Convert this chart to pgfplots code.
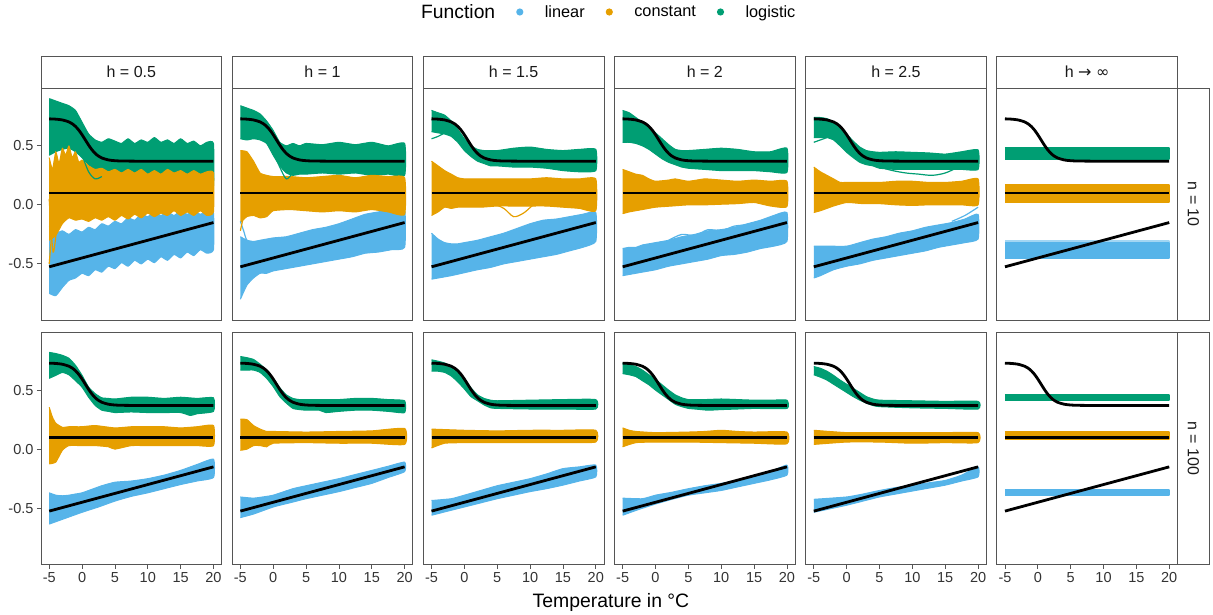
\documentclass[border=0pt]{standalone}
\usepackage{pgfplots}
\pgfplotsset{compat=1.18}
\usepackage{pgfplotstable}
\usepackage{fontspec}
\setmainfont{Liberation Sans}
\newfontfamily\dejavu{DejaVu Sans}
\definecolor{cB}{HTML}{56B4E9}
\definecolor{cO}{HTML}{E69F00}
\definecolor{cG}{HTML}{009E73}
\definecolor{bord}{HTML}{555555}
\definecolor{tickc}{HTML}{333333}
\pgfplotsset{
 panel/.style={anchor=north west, scale only axis, width=180.7pt, height=232.5pt,
   xmin=-6.25, xmax=21.25, ymin=-0.98, ymax=0.99,
   axis line style={bord, line width=0.8pt}, xtick=\empty, ytick=\empty,
   clip mode=individual, tick style={bord, line width=0.8pt}, major tick length=4pt,
   tick align=outside, ticklabel style={font=\fontsize{14.5}{16}\selectfont, text=tickc}},
 leftcol/.style={ytick={-0.5,0,0.5}, yticklabels={-0.5,0.0,0.5}, ytick pos=left},
 botrow/.style={xtick={-5,0,5,10,15,20}, xticklabels={-5,0,5,10,15,20}, xtick pos=bottom},
 B/.style={fill=cB, draw=cB, line width=1pt, line join=round, smooth, tension=0.3},
 O/.style={fill=cO, draw=cO, line width=1pt, line join=round, smooth, tension=0.3},
 G/.style={fill=cG, draw=cG, line width=1pt, line join=round, smooth, tension=0.3},
 Bf/.style={fill=cB, draw=cB, line width=2pt, line join=round},
 Of/.style={fill=cO, draw=cO, line width=2pt, line join=round},
 Gf/.style={fill=cG, draw=cG, line width=2pt, line join=round},
 lB/.style={cB, line width=1.2pt, smooth},
 lO/.style={cO, line width=1.2pt, smooth},
 lG/.style={cG, line width=1.2pt, smooth},
 truth/.style={black, line width=2.8pt, smooth},
}
\pgfplotstableread{
x lin con log
-5 -0.525 0.1 0.7286
-4 -0.51 0.1 0.7260
-3 -0.495 0.1 0.7194
-2 -0.48 0.1 0.7027
-1.5 -0.4725 0.1 0.6871
-1 -0.465 0.1 0.6643
-0.5 -0.4575 0.1 0.6332
0 -0.45 0.1 0.5940
0.5 -0.4425 0.1 0.5500
1 -0.435 0.1 0.5059
1.5 -0.4275 0.1 0.4668
2 -0.42 0.1 0.4357
2.5 -0.4125 0.1 0.4129
3 -0.405 0.1 0.3973
4 -0.39 0.1 0.3806
5 -0.375 0.1 0.3740
6 -0.36 0.1 0.3715
8 -0.33 0.1 0.3702
10 -0.30 0.1 0.3700
15 -0.225 0.1 0.3700
20 -0.15 0.1 0.3700
}\truthtab
\newcommand{\truths}{%
\addplot[truth] table[x=x,y=lin]{\truthtab};
\addplot[truth] table[x=x,y=con]{\truthtab};
\addplot[truth] table[x=x,y=log]{\truthtab};}
\begin{document}
\begin{tikzpicture}
\path[use as bounding box] (-41pt,88pt) rectangle (1172pt,-527pt);
% ---------------- Row 1 (n = 10)
\begin{axis}[panel, leftcol, name=p11, at={(0pt,0pt)}]
\addplot[G] coordinates {(-5,0.90)(-4,0.88)(-3,0.86)(-2,0.84)(-1,0.80)(0,0.70)(1,0.60)(2,0.55)(3,0.53)(4,0.56)(5,0.54)(6,0.52)(7,0.56)(8,0.52)(9,0.55)(10,0.53)(11,0.57)(12,0.53)(13,0.55)(14,0.52)(15,0.56)(16,0.52)(17,0.54)(18,0.50)(19,0.53)(20,0.52)
 (20,0.16)(19,0.20)(18,0.17)(17,0.22)(16,0.19)(15,0.22)(14,0.18)(13,0.21)(12,0.18)(11,0.22)(10,0.19)(9,0.22)(8,0.20)(7,0.23)(6,0.20)(5,0.23)(4,0.22)(3,0.26)(2,0.30)(1,0.34)(0,0.40)(-1,0.45)(-2,0.48)(-3,0.47)(-4,0.45)(-5,0.42)};
\addplot[B] coordinates {(-5,-0.18)(-4,-0.24)(-3,-0.22)(-2,-0.25)(-1,-0.21)(0,-0.23)(1,-0.19)(2,-0.21)(3,-0.16)(4,-0.18)(5,-0.14)(6,-0.16)(7,-0.11)(8,-0.13)(9,-0.08)(10,-0.10)(11,-0.06)(12,-0.09)(13,-0.06)(14,-0.09)(15,-0.05)(16,-0.08)(17,-0.05)(18,-0.08)(19,-0.05)(20,-0.07)
 (20,-0.38)(19,-0.41)(18,-0.38)(17,-0.43)(16,-0.40)(15,-0.45)(14,-0.42)(13,-0.47)(12,-0.44)(11,-0.49)(10,-0.46)(9,-0.50)(8,-0.47)(7,-0.52)(6,-0.49)(5,-0.54)(4,-0.52)(3,-0.57)(2,-0.55)(1,-0.60)(0,-0.58)(-1,-0.62)(-2,-0.64)(-3,-0.70)(-4,-0.77)(-5,-0.75)};
\addplot[O] coordinates {(-5,0.40)(-4.5,0.30)(-4,0.45)(-3.5,0.35)(-3,0.48)(-2.5,0.42)(-2,0.50)(-1.5,0.40)(-1,0.45)(-0.5,0.36)(0,0.38)(1,0.33)(2,0.30)(3,0.31)(4,0.28)(5,0.30)(6,0.27)(7,0.30)(8,0.27)(9,0.30)(10,0.26)(11,0.29)(12,0.26)(13,0.30)(14,0.27)(15,0.29)(16,0.26)(17,0.29)(18,0.26)(19,0.28)(20,0.27)
 (20,-0.06)(19,-0.09)(18,-0.05)(17,-0.09)(16,-0.06)(15,-0.09)(14,-0.05)(13,-0.09)(12,-0.07)(11,-0.10)(10,-0.07)(9,-0.11)(8,-0.08)(7,-0.12)(6,-0.09)(5,-0.13)(4,-0.10)(3,-0.13)(2,-0.11)(1,-0.14)(0,-0.12)(-1,-0.13)(-2,-0.11)(-3,-0.16)(-4,-0.26)(-5,-0.30)};
\addplot[lO] coordinates {(-5,-0.50)(-4.6,-0.25)(-4,-0.05)};
\addplot[lO] coordinates {(-5,0.05)(-4.4,-0.40)(-3.8,-0.15)};
\addplot[lG] coordinates {(-1,0.55)(0,0.42)(1,0.28)(2,0.22)(3,0.24)};
\truths
\end{axis}
\begin{axis}[panel, name=p12, at={(191.15pt,0pt)}]
\addplot[G] coordinates {(-5,0.84)(-4,0.82)(-3,0.80)(-2,0.77)(-1,0.71)(0,0.63)(1,0.53)(2,0.50)(3,0.52)(4,0.50)(5,0.52)(7.5,0.51)(10,0.53)(12.5,0.51)(15,0.53)(17.5,0.50)(20,0.52)
 (20,0.25)(17.5,0.26)(15,0.25)(12.5,0.27)(10,0.26)(7.5,0.27)(5,0.26)(4,0.26)(3,0.25)(2,0.27)(1,0.33)(0,0.42)(-1,0.52)(-2,0.55)(-3,0.56)(-4,0.55)(-5,0.56)};
\addplot[B] coordinates {(-5,-0.27)(-4,-0.30)(-3,-0.31)(-2,-0.30)(-1,-0.29)(0,-0.28)(2,-0.27)(4,-0.24)(6,-0.21)(8,-0.19)(10,-0.16)(12,-0.12)(14,-0.08)(16,-0.06)(18,-0.04)(20,-0.04)
 (20,-0.36)(18,-0.38)(16,-0.40)(14,-0.41)(12,-0.44)(10,-0.46)(8,-0.48)(6,-0.50)(4,-0.52)(2,-0.54)(0,-0.56)(-1,-0.58)(-2,-0.58)(-3,-0.62)(-4,-0.68)(-5,-0.80)};
\addplot[O] coordinates {(-5,0.46)(-4,0.45)(-3,0.37)(-2,0.27)(-1,0.25)(0,0.24)(2.5,0.24)(5,0.23)(7.5,0.24)(10,0.25)(12.5,0.23)(15,0.25)(17.5,0.24)(20,0.23)
 (20,-0.08)(17.5,-0.06)(15,-0.04)(12.5,-0.06)(10,-0.05)(7.5,-0.06)(5,-0.05)(2.5,-0.04)(0,-0.05)(-1,-0.10)(-2,-0.11)(-3,-0.09)(-4,-0.10)(-5,-0.15)};
\addplot[lB] coordinates {(-5,-0.14)(-4.5,-0.22)(-4,-0.30)(-3,-0.32)};
\addplot[lO] coordinates {(-5,-0.22)(-4.5,-0.10)(-4,-0.05)};
\addplot[lG] coordinates {(0,0.45)(1,0.32)(2,0.22)(3,0.27)(4,0.30)};
\truths
\end{axis}
\begin{axis}[panel, name=p13, at={(382.3pt,0pt)}]
\addplot[G] coordinates {(-5,0.80)(-4,0.78)(-3,0.76)(-2,0.71)(-1,0.64)(0,0.56)(1,0.50)(2,0.47)(3,0.46)(5,0.46)(7.5,0.48)(10,0.49)(12.5,0.47)(15,0.46)(17.5,0.47)(20,0.47)
 (20,0.29)(17.5,0.28)(15,0.29)(12.5,0.31)(10,0.32)(7.5,0.32)(5,0.33)(4,0.33)(3,0.35)(2,0.37)(1,0.41)(0,0.46)(-1,0.53)(-2,0.58)(-3,0.60)(-4,0.61)(-5,0.62)};
\addplot[B] coordinates {(-5,-0.24)(-4,-0.29)(-3,-0.32)(-2,-0.33)(-1,-0.33)(0,-0.32)(2,-0.30)(4,-0.27)(6,-0.24)(8,-0.20)(10,-0.16)(12,-0.13)(14,-0.12)(16,-0.10)(18,-0.08)(20,-0.065)
 (20,-0.31)(18,-0.36)(16,-0.39)(14,-0.42)(12,-0.44)(10,-0.46)(8,-0.48)(6,-0.50)(4,-0.53)(2,-0.55)(0,-0.575)(-2,-0.60)(-4,-0.62)(-5,-0.63)};
\addplot[O] coordinates {(-5,0.37)(-4,0.33)(-3,0.29)(-2,0.26)(-1,0.23)(0,0.22)(2.5,0.22)(5,0.22)(7.5,0.22)(10,0.22)(12.5,0.23)(15,0.22)(17.5,0.22)(20,0.22)
 (20,-0.05)(17.5,-0.03)(15,-0.02)(12.5,-0.01)(10,-0.01)(7.5,-0.01)(5,-0.01)(2.5,-0.02)(0,-0.02)(-1,-0.02)(-2,-0.03)(-3,-0.02)(-4,-0.06)(-5,-0.09)};
\addplot[lG] coordinates {(-5,0.56)(-4,0.58)(-3,0.61)};
\addplot[lO] coordinates {(4,0.02)(6,-0.03)(7.5,-0.10)(9,-0.07)(10.5,0.0)(12,0.05)};
\truths
\end{axis}
\begin{axis}[panel, name=p14, at={(573.45pt,0pt)}]
\addplot[G] coordinates {(-5,0.80)(-4,0.78)(-3,0.74)(-2,0.70)(-1,0.66)(0,0.61)(1,0.56)(2,0.51)(3,0.47)(4,0.46)(5,0.46)(7.5,0.47)(10,0.48)(12.5,0.47)(15,0.45)(17.5,0.45)(20,0.48)
 (20,0.275)(17.5,0.28)(15,0.29)(12.5,0.29)(10,0.29)(7.5,0.30)(5,0.31)(4,0.32)(3,0.34)(2,0.36)(1,0.39)(0,0.43)(-1,0.47)(-2,0.50)(-3,0.52)(-4,0.53)(-5,0.53)};
\addplot[B] coordinates {(-5,-0.37)(-4,-0.36)(-3,-0.36)(-2,-0.34)(-1,-0.33)(0,-0.32)(2,-0.30)(4,-0.27)(6,-0.25)(8,-0.22)(10,-0.21)(12,-0.19)(14,-0.16)(16,-0.13)(18,-0.09)(20,-0.065)
 (20,-0.31)(18,-0.35)(16,-0.37)(14,-0.40)(12,-0.42)(10,-0.43)(8,-0.46)(6,-0.48)(4,-0.50)(2,-0.52)(0,-0.55)(-2,-0.57)(-4,-0.59)(-5,-0.60)};
\addplot[O] coordinates {(-5,0.30)(-4,0.28)(-3,0.26)(-2,0.25)(-1,0.22)(0,0.20)(2,0.21)(3,0.22)(5,0.20)(7.5,0.22)(10,0.21)(12.5,0.20)(15,0.21)(17.5,0.20)(20,0.20)
 (20,-0.015)(17.5,-0.01)(15,0.02)(12.5,0.01)(10,0.005)(7.5,0.0)(5,0.0)(2.5,-0.01)(0,-0.02)(-2,-0.04)(-4,-0.06)(-5,-0.075)};
\addplot[lB] coordinates {(2,-0.30)(4,-0.25)(6,-0.26)(8,-0.21)(10,-0.22)(12,-0.18)(14,-0.17)};
\addplot[lB] coordinates {(14,-0.20)(16,-0.22)(18,-0.26)(20,-0.29)};
\truths
\end{axis}
\begin{axis}[panel, name=p15, at={(764.6pt,0pt)}]
\addplot[G] coordinates {(-5,0.74)(-4,0.74)(-3,0.73)(-2,0.70)(-1,0.66)(0,0.60)(1,0.54)(2,0.49)(3,0.46)(4,0.45)(5,0.445)(7.5,0.45)(10,0.445)(12.5,0.44)(15,0.43)(17.5,0.45)(20,0.465)
 (20,0.30)(17.5,0.30)(15,0.30)(12.5,0.30)(10,0.30)(7.5,0.30)(5,0.31)(4,0.33)(3,0.34)(2,0.36)(1,0.40)(0,0.445)(-1,0.50)(-2,0.55)(-3,0.57)(-4,0.57)(-5,0.57)};
\addplot[B] coordinates {(-5,-0.35)(-3,-0.35)(0,-0.35)(2,-0.32)(4,-0.29)(6,-0.27)(8,-0.24)(10,-0.22)(12,-0.19)(14,-0.17)(16,-0.15)(18,-0.12)(20,-0.08)
 (20,-0.29)(18,-0.32)(16,-0.34)(14,-0.36)(12,-0.39)(10,-0.41)(8,-0.43)(6,-0.45)(4,-0.47)(2,-0.50)(0,-0.52)(-2,-0.55)(-4,-0.60)(-5,-0.62)};
\addplot[O] coordinates {(-5,0.32)(-4,0.28)(-3,0.25)(-2,0.22)(-1,0.19)(0,0.19)(5,0.19)(7.5,0.20)(10,0.20)(12.5,0.19)(15,0.19)(17.5,0.20)(20,0.22)
 (20,0.0)(17.5,0.0)(15,0.0)(12.5,0.0)(10,-0.005)(7.5,0.0)(5,0.01)(2.5,0.01)(0,0.02)(-2,-0.01)(-3,-0.03)(-4,-0.05)(-5,-0.065)};
\addplot[lG] coordinates {(-5,0.53)(-4,0.55)(-3,0.57)};
\addplot[lG] coordinates {(5,0.32)(7,0.29)(9,0.27)(11,0.26)(13,0.25)(15,0.27)(17,0.32)(18,0.35)};
\addplot[lB] coordinates {(16,-0.14)(18,-0.09)(20,-0.02)};
\truths
\end{axis}
\begin{axis}[panel, name=p16, at={(955.75pt,0pt)}]
\addplot[Gf] coordinates {(-5,0.48)(20,0.48)(20,0.39)(-5,0.39)};
\addplot[Of] coordinates {(-5,0.165)(20,0.165)(20,0.025)(-5,0.025)};
\addplot[fill=cB!55!white, draw=cB!55!white, line width=2pt, line join=round] coordinates {(-5,-0.305)(20,-0.305)(20,-0.33)(-5,-0.33)};
\addplot[Bf] coordinates {(-5,-0.325)(20,-0.325)(20,-0.45)(-5,-0.45)};
\truths
\end{axis}
% ---------------- Row 2 (n = 100)
\begin{axis}[panel, leftcol, botrow, name=p21, at={(0pt,-244.3pt)}]
\addplot[G] coordinates {(-5,0.82)(-4,0.81)(-3,0.795)(-2,0.77)(-1,0.71)(0,0.625)(1,0.525)(2,0.47)(3,0.435)(4,0.43)(5,0.425)(7.5,0.44)(10,0.44)(12.5,0.43)(15,0.44)(17.5,0.43)(20,0.435)
 (20,0.32)(17.5,0.30)(16.5,0.285)(15,0.31)(12.5,0.31)(10,0.31)(7.5,0.315)(5,0.31)(4,0.32)(3,0.33)(2,0.37)(1,0.44)(0,0.525)(-1,0.58)(-2,0.63)(-3,0.65)(-4,0.625)(-5,0.60)};
\addplot[B] coordinates {(-5,-0.37)(-4,-0.39)(-3,-0.395)(-2,-0.39)(-1,-0.38)(0,-0.37)(2,-0.33)(3,-0.31)(5,-0.28)(7.5,-0.27)(10,-0.25)(12.5,-0.22)(15,-0.18)(17.5,-0.13)(20,-0.085)
 (20,-0.24)(17.5,-0.27)(15,-0.30)(12.5,-0.335)(10,-0.37)(7.5,-0.40)(5,-0.44)(2.5,-0.49)(0,-0.535)(-3,-0.595)(-5,-0.635)};
\addplot[O] coordinates {(-5,0.355)(-4.5,0.27)(-4,0.22)(-3,0.185)(-2,0.19)(-1,0.19)(0,0.19)(2,0.20)(5,0.18)(7.5,0.19)(10,0.19)(12.5,0.19)(15,0.18)(17.5,0.19)(20,0.20)
 (20,0.03)(17.5,0.03)(15,0.03)(12.5,0.03)(10,0.03)(7.5,0.03)(5,0.0)(4,0.02)(2,0.03)(0,0.03)(-2,0.03)(-3,-0.01)(-4,-0.11)(-5,-0.125)};
\truths
\end{axis}
\begin{axis}[panel, botrow, name=p22, at={(191.15pt,-244.3pt)}]
\addplot[G] coordinates {(-5,0.785)(-4,0.775)(-3,0.76)(-2,0.72)(-1,0.67)(0,0.60)(1,0.52)(2,0.46)(3,0.43)(4,0.42)(5,0.42)(7.5,0.42)(10,0.42)(12.5,0.43)(15,0.43)(17.5,0.42)(20,0.41)
 (20,0.31)(17.5,0.32)(15,0.33)(12.5,0.33)(10,0.32)(8,0.31)(7,0.33)(5,0.33)(4,0.335)(3,0.345)(2,0.39)(1,0.445)(0,0.53)(-1,0.60)(-2,0.65)(-3,0.67)(-4,0.67)(-5,0.67)};
\addplot[B] coordinates {(-5,-0.405)(-3,-0.415)(-1,-0.40)(0,-0.39)(3,-0.335)(5,-0.31)(7.5,-0.28)(10,-0.25)(12.5,-0.215)(15,-0.18)(17.5,-0.145)(20,-0.11)
 (20,-0.19)(17.5,-0.24)(15,-0.29)(12.5,-0.325)(10,-0.36)(7.5,-0.39)(5,-0.42)(2.5,-0.455)(0,-0.49)(-3,-0.55)(-5,-0.58)};
\addplot[O] coordinates {(-5,0.255)(-4,0.25)(-3,0.20)(-2,0.17)(-1,0.15)(0,0.15)(5,0.145)(10,0.15)(15,0.155)(20,0.175)
 (20,0.04)(15,0.05)(10,0.05)(5,0.055)(0,0.05)(-1,0.02)(-2,0.03)(-3,0.03)(-4,0.0)(-5,-0.01)};
\truths
\end{axis}
\begin{axis}[panel, botrow, name=p23, at={(382.3pt,-244.3pt)}]
\addplot[G] coordinates {(-5,0.757)(-4,0.745)(-3,0.73)(-2,0.70)(-1,0.66)(0,0.59)(1,0.52)(2,0.46)(3,0.43)(4,0.415)(5,0.41)(10,0.415)(15,0.42)(20,0.42)
 (20,0.34)(15,0.34)(10,0.34)(5,0.345)(4,0.35)(3,0.375)(2,0.41)(1,0.445)(0,0.51)(-1,0.57)(-2,0.62)(-3,0.65)(-4,0.66)(-5,0.66)};
\addplot[B] coordinates {(-5,-0.435)(-2,-0.42)(0,-0.39)(2.5,-0.35)(5,-0.31)(7.5,-0.28)(10,-0.25)(12.5,-0.21)(15,-0.165)(17.5,-0.15)(20,-0.135)
 (20,-0.235)(17.5,-0.27)(15,-0.305)(12.5,-0.335)(10,-0.36)(7.5,-0.39)(5,-0.42)(2.5,-0.455)(0,-0.49)(-2.5,-0.525)(-5,-0.56)};
\addplot[O] coordinates {(-5,0.17)(0,0.16)(5,0.155)(10,0.16)(15,0.16)(20,0.16)
 (20,0.06)(15,0.055)(10,0.055)(5,0.055)(0,0.055)(-3,0.05)(-5,0.01)};
\truths
\end{axis}
\begin{axis}[panel, botrow, name=p24, at={(573.45pt,-244.3pt)}]
\addplot[G] coordinates {(-5,0.73)(-4,0.715)(-3,0.70)(-2,0.67)(-1,0.63)(0,0.59)(1,0.545)(2,0.50)(3,0.46)(4,0.435)(5,0.42)(7.5,0.42)(10,0.425)(12.5,0.42)(15,0.415)(17.5,0.415)(20,0.415)
 (20,0.345)(15,0.345)(12.5,0.34)(10,0.335)(8,0.33)(6,0.34)(5,0.345)(4,0.36)(3,0.38)(2,0.42)(1,0.46)(0,0.50)(-1,0.545)(-2,0.58)(-3,0.615)(-4,0.63)(-5,0.64)};
\addplot[B] coordinates {(-5,-0.415)(-2,-0.42)(0,-0.39)(2.5,-0.365)(5,-0.335)(7.5,-0.31)(10,-0.29)(12.5,-0.265)(15,-0.235)(17.5,-0.19)(20,-0.135)
 (20,-0.22)(17.5,-0.26)(15,-0.29)(12.5,-0.32)(10,-0.35)(7.5,-0.37)(5,-0.39)(2.5,-0.425)(0,-0.465)(-2.5,-0.51)(-5,-0.56)};
\addplot[O] coordinates {(-5,0.18)(-4,0.16)(-3,0.15)(0,0.14)(5,0.145)(7.5,0.15)(10,0.16)(12.5,0.15)(15,0.145)(20,0.145)
 (20,0.045)(15,0.05)(10,0.055)(5,0.06)(0,0.06)(-3,0.055)(-5,0.02)};
\truths
\end{axis}
\begin{axis}[panel, botrow, name=p25, at={(764.6pt,-244.3pt)}]
\addplot[G] coordinates {(-5,0.70)(-4,0.685)(-3,0.66)(-2,0.625)(-1,0.585)(0,0.55)(1,0.515)(2,0.48)(3,0.445)(4,0.425)(5,0.415)(10,0.41)(15,0.405)(20,0.405)
 (20,0.34)(15,0.345)(10,0.35)(5,0.36)(4,0.37)(3,0.39)(2,0.415)(1,0.445)(0,0.48)(-1,0.515)(-2,0.55)(-3,0.585)(-4,0.61)(-5,0.63)};
\addplot[B] coordinates {(-5,-0.425)(0,-0.405)(2.5,-0.38)(5,-0.35)(7.5,-0.325)(10,-0.305)(12.5,-0.285)(15,-0.265)(17.5,-0.22)(20,-0.15)
 (20,-0.235)(17.5,-0.27)(15,-0.305)(12.5,-0.33)(10,-0.355)(7.5,-0.38)(5,-0.405)(2.5,-0.44)(0,-0.475)(-2.5,-0.505)(-5,-0.535)};
\addplot[O] coordinates {(-5,0.16)(0,0.14)(5,0.14)(10,0.14)(15,0.14)(20,0.14)
 (20,0.055)(15,0.055)(10,0.05)(5,0.06)(0,0.06)(-5,0.04)};
\truths
\end{axis}
\begin{axis}[panel, botrow, name=p26, at={(955.75pt,-244.3pt)}]
\addplot[Gf] coordinates {(-5,0.463)(20,0.463)(20,0.419)(-5,0.419)};
\addplot[Of] coordinates {(-5,0.142)(20,0.142)(20,0.09)(-5,0.09)};
\addplot[Bf] coordinates {(-5,-0.345)(20,-0.345)(20,-0.385)(-5,-0.385)};
\truths
\end{axis}
% ---------------- strips
\tikzset{strip/.style={draw=bord, line width=0.8pt, fill=white}, stript/.style={font=\fontsize{16}{18}\selectfont, text=black!90}}
\foreach \p/\t in {p11/{h = 0.5}, p12/{h = 1}, p13/{h = 1.5}, p14/{h = 2}, p15/{h = 2.5}, p16/{h {\dejavu →} {\dejavu ∞}}}{
  \draw[strip] (\p.north west) rectangle ([yshift=32pt]\p.north east);
  \node[stript] at ([yshift=16pt]\p.north) {\t};
}
\draw[strip] (p16.north east) rectangle ([xshift=32pt]p16.south east);
\node[stript, rotate=-90] at ([xshift=16pt]p16.east) {n = 10};
\draw[strip] (p26.north east) rectangle ([xshift=32pt]p26.south east);
\node[stript, rotate=-90] at ([xshift=16pt]p26.east) {n = 100};
% ---------------- axis title
\node[font=\fontsize{19.4}{22}\selectfont, anchor=base] at (570pt,-519pt) {Temperature in °C};
% ---------------- legend
\begin{axis}[at={(375pt,76pt)}, anchor=west, hide axis, scale only axis, width=1pt, height=1pt,
  xmin=0, xmax=1, ymin=0, ymax=1,
  legend style={at={(0,0.5)}, anchor=west, draw=none, fill=none, legend columns=4,
    font=\fontsize{16.3}{18}\selectfont, /tikz/every even column/.append style={column sep=19pt}}]
\addlegendimage{empty legend}
\addlegendentry{\fontsize{19.3}{22}\selectfont Function}
\addlegendimage{legend image code/.code={\path[draw=none,fill=none] (-3.6pt,0pt) -- (23pt,0pt); \fill[cB,draw=none] (0pt,0pt) circle (3.6pt);}}
\addlegendentry{linear}
\addlegendimage{legend image code/.code={\path[draw=none,fill=none] (-3.6pt,0pt) -- (23pt,0pt); \fill[cO,draw=none] (0pt,0pt) circle (3.6pt);}}
\addlegendentry{constant}
\addlegendimage{legend image code/.code={\path[draw=none,fill=none] (-3.6pt,0pt) -- (23pt,0pt); \fill[cG,draw=none] (0pt,0pt) circle (3.6pt);}}
\addlegendentry{logistic}
\end{axis}
\end{tikzpicture}
\end{document}
